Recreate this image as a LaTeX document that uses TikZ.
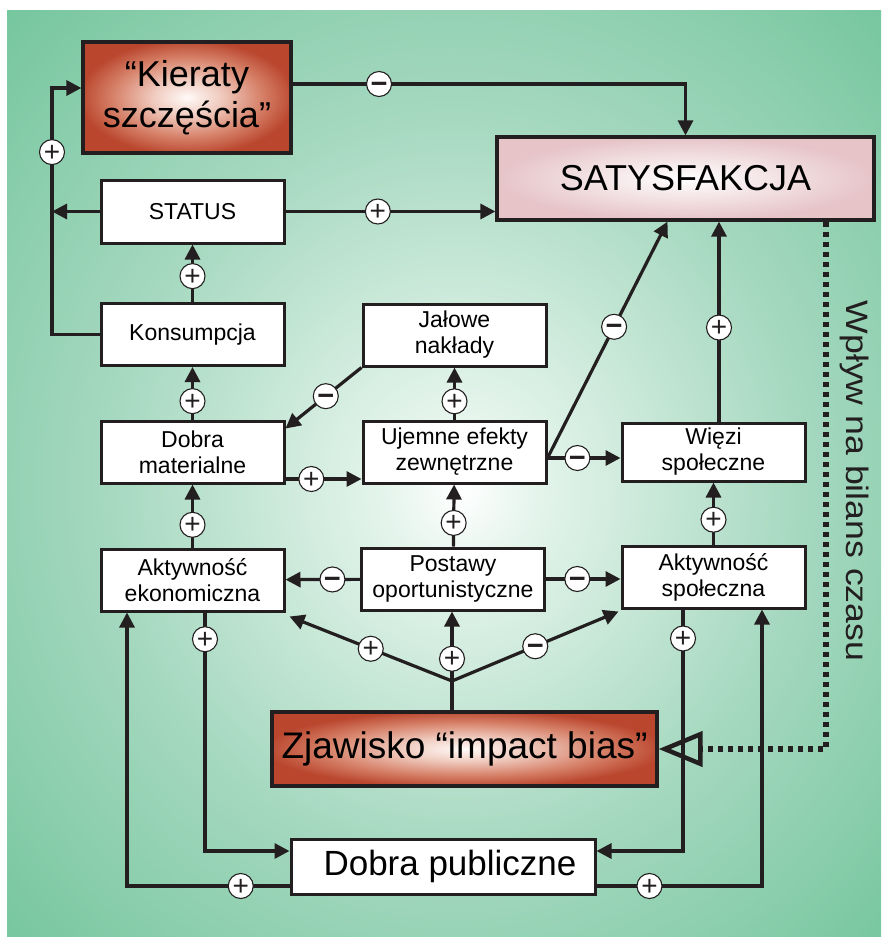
\documentclass[tikz,border=0pt]{standalone}
\usepackage{fontspec}
\setmainfont{Liberation Sans}
\usetikzlibrary{arrows.meta,calc}
\definecolor{lineK}{RGB}{35,31,32}
\definecolor{bgGreen}{RGB}{117,198,158}
\definecolor{bgMid}{RGB}{165,216,191}
\definecolor{bgLight}{RGB}{230,245,237}
\definecolor{hotRed}{RGB}{186,70,46}
\definecolor{hotMid}{RGB}{214,128,104}
\definecolor{hotSoft}{RGB}{240,204,192}
\definecolor{hotCore}{RGB}{255,250,248}
\definecolor{goalPink}{RGB}{230,196,200}
\pgfdeclareradialshading{bgShade}{\pgfpoint{1bp}{-1bp}}{color(0bp)=(white); color(4bp)=(bgLight); color(20bp)=(bgMid); color(36bp)=(bgGreen); color(50bp)=(bgGreen)}
\pgfdeclareradialshading{hotShade}{\pgfpoint{0bp}{0bp}}{color(0bp)=(hotCore); color(8bp)=(hotSoft); color(18bp)=(hotMid); color(26bp)=(hotRed); color(50bp)=(hotRed)}
\pgfdeclareradialshading{goalShade}{\pgfpoint{0bp}{0bp}}{color(0bp)=(white); color(25bp)=(goalPink); color(50bp)=(goalPink)}

\begin{document}
\begin{tikzpicture}[x=1pt, y=-1pt,
  comp/.style={draw=lineK, line width=3pt, fill=white, minimum width=183pt,
               minimum height=62pt, inner sep=2pt, align=center,
               font=\fontsize{23}{26}\selectfont},
  hot/.style={draw=lineK, line width=3.2pt, shading=hotShade, inner sep=2pt,
              align=center, font=\fontsize{36}{41}\selectfont},
  goal/.style={draw=lineK, line width=3.2pt, shading=goalShade, minimum width=377pt,
               minimum height=83pt, font=\fontsize{36}{41}\selectfont},
  ln/.style={line width=3.2pt, draw=lineK},
  arr/.style={ln, -{Triangle[length=15pt,width=15pt]}},
  dots/.style={line width=5.5pt, draw=lineK, dash pattern=on 5.5pt off 4.5pt,
               -{Triangle[open, length=44pt, width=35pt, line width=4.5pt]}},
  sgn/.style={circle, draw=lineK, line width=1.1pt, fill=white, minimum size=25pt,
              inner sep=0pt, text height=18pt, text depth=0pt, text=lineK},
  pl/.style={sgn, font=\fontsize{28}{28}\selectfont},
  mi/.style={sgn, font=\fontsize{29}{29}\selectfont\bfseries}
]
\useasboundingbox (0,0) rectangle (881,937);
\fill[white] (0,0) rectangle (881,937);
\shade[shading=bgShade] (7,10) rectangle (881,937);

\node[hot, minimum width=208pt, minimum height=111pt] (KS) at (187,97.5) {“Kieraty\\szczęścia”};
\node[goal] (SAT) at (685.5,178.5) {SATYSFAKCJA};
\node[comp, minimum height=63pt] (ST) at (192.5,211.5) {STATUS};
\node[comp] (KO) at (192.5,334.5) {Konsumpcja};
\node[comp] (JN) at (454.5,335) {Jałowe\\nakłady};
\node[comp] (DM) at (192.5,452) {Dobra\\materialne};
\node[comp] (UE) at (454.5,452) {Ujemne efekty\\zewnętrzne};
\node[comp, minimum height=58pt] (WS) at (713.5,452) {Więzi\\społeczne};
\node[comp] (AE) at (192.5,580) {Aktywność\\ekonomiczna};
\node[comp] (PO) at (453,579) {Postawy\\oportunistyczne};
\node[comp] (AS) at (713.5,577) {Aktywność\\społeczna};
\node[hot, minimum width=385pt, minimum height=74pt, font=\fontsize{37}{42}\selectfont] (ZJ) at (464.5,749) {Zjawisko “impact bias”};
\node[comp, minimum width=304pt, minimum height=55pt, font=\fontsize{35}{40}\selectfont] (DP) at (443,866.5) {\hspace*{14pt}Dobra publiczne};
\node[rotate=-90, xscale=1.15, text=lineK, font=\fontsize{31}{36}\selectfont] (WB) at (855,481) {Wpływ na bilans czasu};

\coordinate (LT) at (52,88);
\coordinate (FK) at (452,681);

% top loop
\draw[arr] ([yshift=13.5pt]KS.east) -| node[mi, pos=0.11] {−} (SAT.north);
\draw[arr] (ST.east) -- node[pl, pos=0.44] {+} (ST.east -| SAT.west);
\draw[arr] (KO.west) -| node[pl, pos=0.87] {+} (LT) -- (LT -| KS.west);
\draw[arr] (ST.west) -- (ST.west -| LT);

% middle
\draw[arr] (KO) -- node[pl, pos=0.45] {+} (ST);
\draw[arr] (DM) -- node[pl, pos=0.35] {+} (KO);
\draw[arr] (AE) -- node[pl, pos=0.36] {+} (DM);
\draw[arr] (JN.south west) -- node[mi, pos=0.47] {−} ([yshift=-9pt]DM.north east);
\draw[arr] (UE) -- node[pl, pos=0.35] {+} (JN);
\draw[arr] ([yshift=-27pt]DM.east) -- node[pl, pos=0.34] {+} ([yshift=-27pt]DM.east -| UE.west);
\draw[arr] (PO) -- node[pl, pos=0.38] {+} (UE);
\draw[arr] (PO) -- node[mi, pos=0.37] {−} (AE);
\draw[arr] (PO.east) -- node[mi, pos=0.42] {−} (PO.east -| AS.west);
\draw[arr] ([yshift=-6pt]UE.east) -- node[mi, pos=0.41] {−} ([yshift=-6pt]UE.east -| WS.west);
\draw[arr] ([yshift=-6pt]UE.east) -- node[mi, pos=0.555] {−} ([xshift=-18pt]SAT.south);
\draw[arr] ([xshift=5.5pt]WS.north) -- node[pl, pos=0.47] {+} ([xshift=5.5pt]WS.north |- SAT.south);
\draw[arr] (AS) -- node[pl, pos=0.4] {+} (WS);

% impact bias fan
\draw[ln] (FK |- ZJ.north) -- (FK);
\draw[arr] (FK) -- node[pl, pos=0.5] {+} ([xshift=4pt,yshift=-4pt]AE.south east);
\draw[arr] (FK) -- node[pl, pos=0.32] {+} (FK |- PO.south);
\draw[arr] (FK) -- node[mi, pos=0.5] {−} ([xshift=-2pt,yshift=-2pt]AS.south west);

% public goods
\draw[arr] ([xshift=12.5pt]AE.south) |- node[pl, pos=0.056] {+} ([yshift=15.5pt]DP.west);
\draw[arr] ([xshift=-30.5pt]AS.south) |- node[pl, pos=0.06] {+} ([yshift=15.5pt]DP.east);
\draw[arr] ([yshift=-19.5pt]DP.west) -| node[pl, pos=0.15] {+} ([xshift=-65.5pt]AE.south);
\draw[arr] ([yshift=-19.5pt]DP.east) -| node[pl, pos=0.16] {+} ([xshift=48.5pt]AS.south);

% time balance
\draw[dots] ([xshift=140.5pt]SAT.south) |- (ZJ.east);
\end{tikzpicture}
\end{document}
